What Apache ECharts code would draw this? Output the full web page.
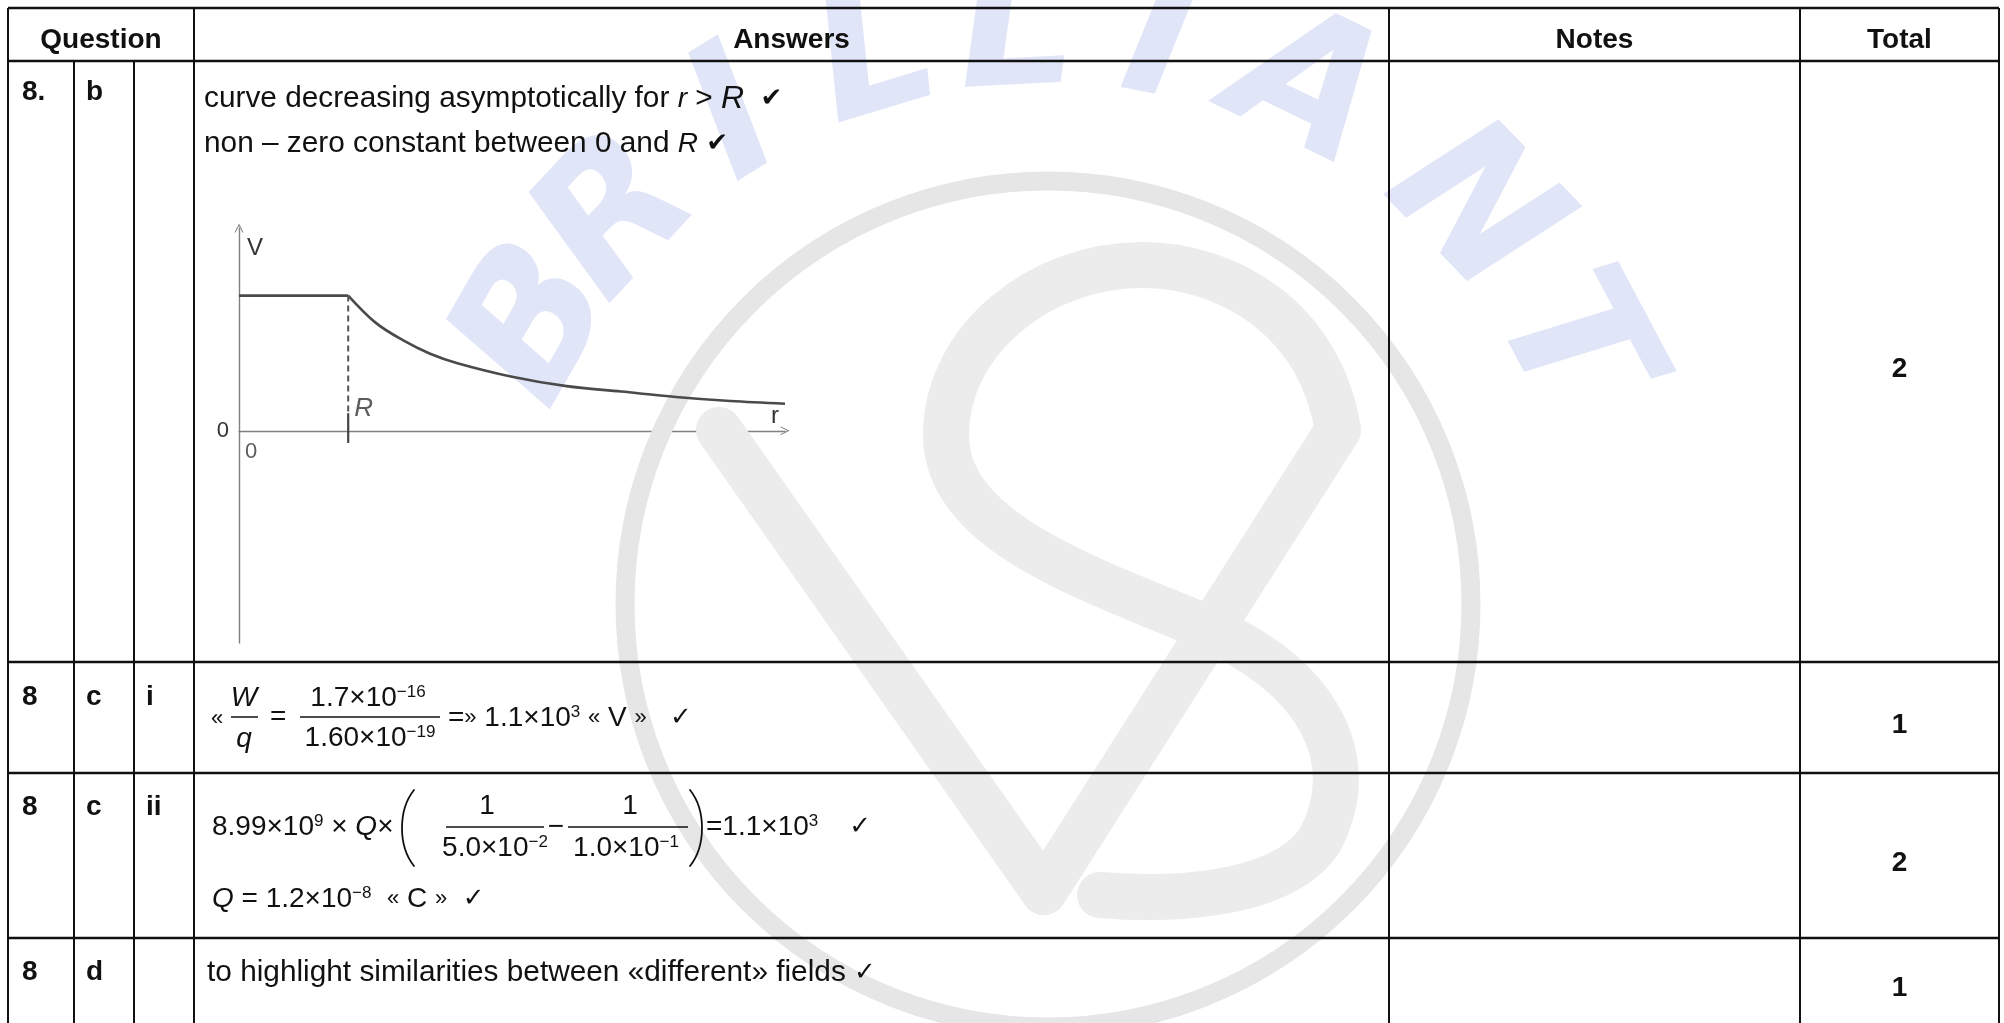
<!DOCTYPE html>
<html>
<head>
<meta charset="utf-8">
<title>Q8 markscheme</title>
<script src="https://cdn.jsdelivr.net/npm/echarts@6/dist/echarts.min.js"></script>
<style>
  html, body { margin: 0; padding: 0; background: #fff; }
  #chart { width: 2004px; height: 1023px; }
</style>
</head>
<body>
<div id="chart"></div>
<script>
// table content
const headers = ['Question', 'Answers', 'Notes', 'Total']
const questionNo = ['8.', '8', '8', '8']
const questionPart = ['b', 'c', 'c', 'd']
const questionSub = ['', 'i', 'ii', '']
const totals = ['2', '1', '2', '1']

// sketch of V against r  (r in units of R, V in units of the inside value)
const plateauR = [0, 1]
const plateauV = [1, 1]
const curveR = [1, 1.25, 1.5, 1.75, 2, 2.5, 3, 3.5, 4, 4.5, 5]
const curveV = [1, 0.8, 0.67, 0.57, 0.5, 0.4, 0.33, 0.29, 0.25, 0.22, 0.2]
const radiusR = 1
const tickV = [-0.09, 0.13]

// layout, px
const colX = [8, 74, 134, 194, 1389, 1800, 1999]
const rowY = [8, 61, 662, 773, 938]
const labelY = [92, 697, 807, 972]
const totalY = [369, 725, 863, 988]

const FONT = '"Liberation Sans", Arial, "DejaVu Sans", sans-serif'
const INK = '#111'
const BODY = 29.8
const RICH = {
  n: { fontSize: 28, fontFamily: FONT, fill: INK },
  i: { fontSize: 28, fontFamily: FONT, fontStyle: 'italic', fill: INK },
  I: { fontSize: 32, fontFamily: FONT, fontStyle: 'italic', fill: INK },
  s: { fontSize: 17, fontFamily: FONT, fill: INK, verticalAlign: 'top' },
  g: { fontSize: 22, fontFamily: FONT, fill: INK },
  c: { fontSize: 26, fontFamily: '"DejaVu Sans", sans-serif', fill: INK }
}

function zip (a, b) {
  return a.map((v, k) => [v, b[k]])
}

function txt (x, y, text, o) {
  o = o || {}
  return {
    type: 'text',
    x: x,
    y: y,
    z: o.z == null ? 20 : o.z,
    silent: true,
    rotation: o.rotation || 0,
    style: {
      text: text,
      fill: o.fill || INK,
      fontSize: o.size || 28,
      fontFamily: o.family || FONT,
      fontWeight: o.weight || 'normal',
      fontStyle: o.italic ? 'italic' : 'normal',
      align: o.align || 'left',
      verticalAlign: 'middle',
      rich: RICH
    }
  }
}

function seg (x1, y1, x2, y2, w, color) {
  return {
    type: 'line',
    z: 20,
    silent: true,
    shape: { x1: x1, y1: y1, x2: x2, y2: y2 },
    style: { stroke: color || INK, lineWidth: w || 2 }
  }
}

function curve (c, w, color, z) {
  return {
    type: 'bezierCurve',
    z: z == null ? 20 : z,
    silent: true,
    shape: { x1: c[0], y1: c[1], cpx1: c[2], cpy1: c[3], cpx2: c[4], cpy2: c[5], x2: c[6], y2: c[7] },
    style: { stroke: color || INK, lineWidth: w, lineCap: 'round', fill: 'none' }
  }
}

// watermark (under everything)
function watermark () {
  const els = []
  const ring = '#e6e6e6'
  const band = '#ececec'
  els.push({
    type: 'circle', z: 1, silent: true,
    shape: { cx: 1048, cy: 604, r: 423 },
    style: { fill: 'none', stroke: ring, lineWidth: 19 }
  })
  ;[[719, 430, 1044, 892], [1044, 892, 1338, 430]].forEach(s => els.push({
    type: 'line', z: 1, silent: true,
    shape: { x1: s[0], y1: s[1], x2: s[2], y2: s[3] },
    style: { stroke: band, lineWidth: 46, lineCap: 'round' }
  }))
  ;[
    [1338, 430, 1320, 320, 1230, 265, 1142, 265],
    [1142, 265, 1040, 265, 946, 340, 946, 435],
    [946, 435, 946, 530, 1080, 575, 1200, 625],
    [1200, 625, 1320, 675, 1362, 760, 1320, 840],
    [1320, 840, 1280, 900, 1160, 900, 1100, 895]
  ].forEach(c => els.push(curve(c, 46, band, 1)))

  const word = 'BRILLIANT'
  const angles = [150, 137, 122, 107, 93, 79, 64, 44, 28]
  word.split('').forEach((ch, k) => {
    const a = angles[k] * Math.PI / 180
    els.push(txt(1048 + 585 * Math.cos(a), 620 - 585 * Math.sin(a), ch, {
      z: 1, size: 185, weight: 'bold', italic: true, align: 'center',
      family: '"DejaVu Sans", sans-serif', fill: '#e1e5f8',
      rotation: a - Math.PI / 2
    }))
  })
  return els
}

function table () {
  const els = []
  const bottom = 1023
  const right = colX[colX.length - 1]
  rowY.forEach(y => els.push(seg(colX[0], y, right, y, 2.5)))
  ;[0, 3, 4, 5, 6].forEach(k => els.push(seg(colX[k], rowY[0], colX[k], bottom, 2)))
  ;[1, 2].forEach(k => els.push(seg(colX[k], rowY[1], colX[k], bottom, 2)))

  const headSpans = [[0, 3], [3, 4], [4, 5], [5, 6]]
  headers.forEach((h, k) => {
    const cx = (colX[headSpans[k][0]] + colX[headSpans[k][1]]) / 2
    els.push(txt(cx, 40, h, { weight: 'bold', align: 'center' }))
  })
  questionNo.forEach((q, k) => {
    els.push(txt(22, labelY[k], q, { weight: 'bold' }))
    els.push(txt(86, labelY[k], questionPart[k], { weight: 'bold' }))
    if (questionSub[k]) els.push(txt(146, labelY[k], questionSub[k], { weight: 'bold' }))
    els.push(txt((colX[5] + colX[6]) / 2, totalY[k], totals[k], { weight: 'bold', align: 'center' }))
  })

  // 8 b
  els.push(txt(204, 99, 'curve decreasing asymptotically for {i|r} > {I|R}  {c|✔}', { size: BODY }))
  els.push(txt(204, 144, 'non – zero constant between 0 and {i|R} {c|✔}', { size: BODY }))

  // 8 c i
  els.push(txt(211, 719, '{g|«}'))
  els.push(txt(244, 698, 'W', { italic: true, align: 'center' }))
  els.push(seg(231, 717, 258, 717, 1.5))
  els.push(txt(244, 739, 'q', { italic: true, align: 'center' }))
  els.push(txt(270, 717, '='))
  els.push(txt(368, 698, '1.7×10{s|−16}', { align: 'center' }))
  els.push(seg(300, 717, 440, 717, 1.5))
  els.push(txt(370, 738, '1.60×10{s|−19}', { align: 'center' }))
  els.push(txt(448, 718, '={g|»} 1.1×10{s|3} {g|«} V {g|»}   {c|✓}'))

  // 8 c ii
  els.push(txt(212, 827, '8.99×10{s|9} × {i|Q}×'))
  els.push(curve([414, 790, 398, 810, 398, 846, 414, 866], 1.8))
  els.push(txt(487, 806, '1', { align: 'center' }))
  els.push(seg(446, 827, 544, 827, 1.5))
  els.push(txt(495, 848, '5.0×10{s|−2}', { align: 'center' }))
  els.push(txt(556, 827, '−', { align: 'center' }))
  els.push(txt(630, 806, '1', { align: 'center' }))
  els.push(seg(568, 827, 688, 827, 1.5))
  els.push(txt(626, 848, '1.0×10{s|−1}', { align: 'center' }))
  els.push(curve([690, 790, 706, 810, 706, 846, 690, 866], 1.8))
  els.push(txt(706, 827, '=1.1×10{s|3}    {c|✓}'))
  els.push(txt(212, 899, '{i|Q} = 1.2×10{s|−8}  {g|«} C {g|»}  {c|✓}'))

  // 8 d
  els.push(txt(207, 973, 'to highlight similarities between «different» fields {c|✓}', { size: BODY }))
  return els
}

const chevron = 'path://M0,10L5,0L10,10L8.8,10L5,2.4L1.2,10Z'
const axisGrey = '#808080'
const labelFont = { fontFamily: FONT, color: '#333' }

const chart = echarts.init(document.getElementById('chart'))
const option = {
  backgroundColor: '#fff',
  animation: false,
  grid: { left: 239, top: 228, width: 546, height: 415 },
  xAxis: {
    type: 'value',
    min: 0,
    max: 5,
    name: 'r',
    nameLocation: 'end',
    nameGap: -14,
    nameTextStyle: Object.assign({ fontSize: 24, verticalAlign: 'bottom', padding: [0, 0, 2, 0] }, labelFont),
    axisLine: { onZero: true, symbol: ['none', chevron], symbolSize: [9, 10], lineStyle: { color: axisGrey, width: 1.4 } },
    axisTick: { show: false },
    splitLine: { show: false },
    axisLabel: { show: false }
  },
  yAxis: {
    type: 'value',
    min: -1.57,
    max: 1.5,
    name: 'V',
    nameLocation: 'end',
    nameGap: -20,
    nameTextStyle: Object.assign({ fontSize: 24, align: 'left', verticalAlign: 'middle', padding: [0, 0, 0, 8] }, labelFont),
    axisLine: { onZero: true, symbol: ['none', chevron], symbolSize: [9, 10], lineStyle: { color: axisGrey, width: 1.4 } },
    axisTick: { show: false },
    splitLine: { show: false },
    axisLabel: Object.assign({ customValues: [0], margin: 10, fontSize: 22 }, labelFont)
  },
  series: [
    {
      name: 'inside',
      type: 'line',
      data: zip(plateauR, plateauV),
      symbol: 'none',
      z: 5,
      lineStyle: { color: '#4a4a4a', width: 2.6 }
    },
    {
      name: 'outside',
      type: 'line',
      data: zip(curveR, curveV),
      smooth: 0.35,
      symbol: 'none',
      z: 5,
      lineStyle: { color: '#4a4a4a', width: 2.6 }
    },
    {
      name: 'edge',
      type: 'line',
      data: [[radiusR, plateauV[1]], [radiusR, tickV[1]]],
      symbol: 'none',
      z: 5,
      lineStyle: { color: '#555', width: 2, type: [6, 4] }
    },
    {
      name: 'tick',
      type: 'line',
      data: [[radiusR, tickV[0]], [radiusR, tickV[1]]],
      symbol: 'none',
      z: 5,
      lineStyle: { color: '#444', width: 2.2 }
    },
    {
      name: 'labels',
      type: 'scatter',
      symbolSize: 0,
      z: 5,
      data: [
        {
          value: [radiusR, 0.16],
          label: Object.assign({ show: true, formatter: 'R', position: 'right', distance: 6, fontSize: 26, fontStyle: 'italic' }, labelFont)
        },
        {
          value: [0, 0],
          label: Object.assign({ show: true, formatter: '0', position: [6, 10], fontSize: 22 }, labelFont)
        }
      ]
    }
  ],
  graphic: watermark().concat(table())
}
chart.setOption(option)
</script>
</body>
</html>
